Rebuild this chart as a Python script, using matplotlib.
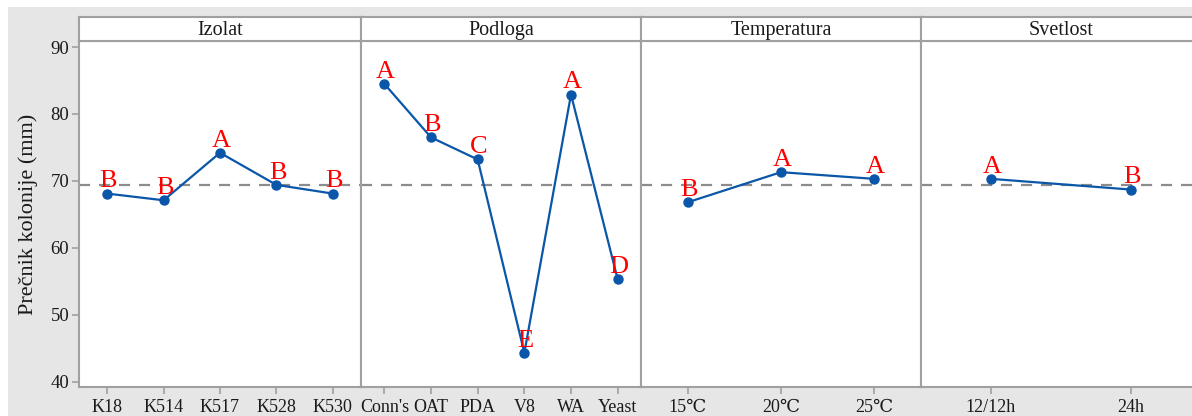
import matplotlib
matplotlib.use("Agg")
import matplotlib.pyplot as plt
from matplotlib.patches import Rectangle

# ---- data ----
panel_titles = ["Izolat", "Podloga", "Temperatura", "Svetlost"]
izolat_labels = ["K18", "K514", "K517", "K528", "K530"]
izolat_values = [68.1, 67.1, 74.2, 69.4, 68.1]
izolat_groups = ["B", "B", "A", "B", "B"]

podloga_labels = ["Conn's", "OAT", "PDA", "V8", "WA", "Yeast"]
podloga_values = [84.5, 76.5, 73.2, 44.3, 82.9, 55.3]
podloga_groups = ["A", "B", "C", "E", "A", "D"]

temp_labels = ["15\u2103", "20\u2103", "25\u2103"]
temp_values = [66.8, 71.3, 70.3]
temp_groups = ["B", "A", "A"]

svetlost_labels = ["12/12h", "24h"]
svetlost_values = [70.3, 68.7]
svetlost_groups = ["A", "B"]

grand_mean = 69.35
y_ticks = [40, 50, 60, 70, 80, 90]
y_label = "Prečnik kolonije (mm)"

panels = [
    (izolat_labels, izolat_values, izolat_groups),
    (podloga_labels, podloga_values, podloga_groups),
    (temp_labels, temp_values, temp_groups),
    (svetlost_labels, svetlost_values, svetlost_groups),
]

# ---- style ----
W, H = 1192, 416
SERIF = ["Liberation Serif", "DejaVu Serif"]
plt.rcParams["font.family"] = SERIF
BG = "#e6e6e6"
FRAME = "#a0a0a0"
LINE = "#0a56a8"
TXT = "#1a1a1a"

fig = plt.figure(figsize=(W / 100, H / 100), dpi=100, facecolor=BG)
# white margin on top and left
fig.patches.append(Rectangle((0, 1 - 7 / H), 1, 7 / H, transform=fig.transFigure,
                             facecolor="white", edgecolor="none", zorder=-1))
fig.patches.append(Rectangle((0, 0), 8 / W, 1, transform=fig.transFigure,
                             facecolor="white", edgecolor="none", zorder=-1))

x_edges = [79, 361, 641, 921, 1201]
ax_top, ax_bot = 41, 387
strip_top = 17

for i, (labels, values, groups) in enumerate(panels):
    x0, x1 = x_edges[i], x_edges[i + 1]
    ax = fig.add_axes([x0 / W, (H - ax_bot) / H, (x1 - x0) / W, (ax_bot - ax_top) / H])
    ax.set_facecolor("white")
    xs = list(range(len(labels)))
    ax.axhline(grand_mean, color="#8c8c8c", lw=1.6, ls=(0, (5, 4)), zorder=1)
    ax.plot(xs, values, color=LINE, lw=1.6, marker="o", ms=6.5, zorder=3)
    for x, v, g in zip(xs, values, groups):
        ax.annotate(g, (x, v), xytext=(0.8, 4.5), textcoords="offset points",
                    ha="center", va="baseline", color="red", fontsize=19,
                    family=SERIF, zorder=4)
    ax.set_xlim(-0.5, len(labels) - 0.5)
    ax.set_ylim(39.2, 90.9)
    ax.set_xticks(xs)
    ax.set_xticklabels(labels, fontsize=13, color=TXT)
    ax.set_yticks(y_ticks)
    for s in ax.spines.values():
        s.set_color(FRAME)
        s.set_linewidth(1.5)
    ax.tick_params(axis="x", length=5, width=1.2, color=FRAME, pad=4)
    if i == 0:
        ax.tick_params(axis="y", length=5, width=1.2, color=FRAME, labelsize=13.5,
                       labelcolor=TXT, pad=2)
        ax.set_ylabel(y_label, fontsize=16, color=TXT, labelpad=9)
    else:
        ax.tick_params(axis="y", left=False, labelleft=False)

    # strip
    sax = fig.add_axes([x0 / W, (H - ax_top) / H, (x1 - x0) / W, (ax_top - strip_top) / H])
    sax.set_facecolor("white")
    sax.set_xticks([])
    sax.set_yticks([])
    for s in sax.spines.values():
        s.set_color(FRAME)
        s.set_linewidth(1.5)
    sax.text(0.5, 0.45, panel_titles[i], transform=sax.transAxes, ha="center",
             va="center", fontsize=14.5, color=TXT)

fig.savefig("out.png", dpi=100, facecolor=BG)
